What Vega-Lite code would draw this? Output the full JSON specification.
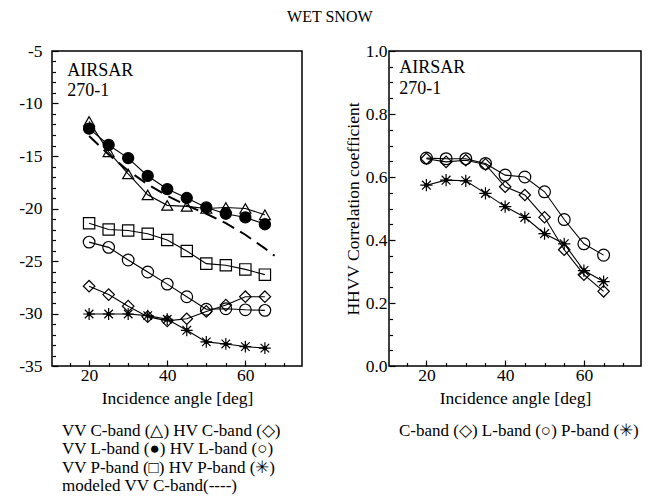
{
  "$schema": "https://vega.github.io/schema/vega-lite/v6.json",
  "background": "white",
  "padding": {"left": 17, "top": 9, "right": 2, "bottom": 0},
  "title": {"text": "WET SNOW", "font": "Liberation Serif", "fontSize": 16, "fontWeight": "normal", "color": "black", "anchor": "middle", "offset": 16},
  "resolve": {"scale": {"shape": "independent", "fill": "independent", "size": "independent"}},
  "config": {
    "font": "Liberation Serif",
    "view": {"stroke": "black", "strokeWidth": 1.5},
    "concat": {"spacing": 40},
    "axis": {"domain": false, "grid": false, "tickColor": "black", "tickWidth": 1.2, "labelFont": "Liberation Serif", "labelFontSize": 17.5, "labelColor": "black", "titleFont": "Liberation Serif", "titleFontSize": 17.5, "titleFontWeight": "normal", "titleColor": "black"}
  },
  "datasets": {
    "backscatter": [
      {"series": "VV C-band", "angle": 20, "value": -11.7}, {"series": "VV C-band", "angle": 25, "value": -14.6}, {"series": "VV C-band", "angle": 30, "value": -16.7}, {"series": "VV C-band", "angle": 35, "value": -18.7}, {"series": "VV C-band", "angle": 40, "value": -19.7}, {"series": "VV C-band", "angle": 45, "value": -19.8}, {"series": "VV C-band", "angle": 50, "value": -20.0}, {"series": "VV C-band", "angle": 55, "value": -19.9}, {"series": "VV C-band", "angle": 60, "value": -20.0}, {"series": "VV C-band", "angle": 65, "value": -20.6},
      {"series": "VV L-band", "angle": 20, "value": -12.4}, {"series": "VV L-band", "angle": 25, "value": -13.95}, {"series": "VV L-band", "angle": 30, "value": -15.2}, {"series": "VV L-band", "angle": 35, "value": -16.9}, {"series": "VV L-band", "angle": 40, "value": -18.15}, {"series": "VV L-band", "angle": 45, "value": -19.0}, {"series": "VV L-band", "angle": 50, "value": -19.9}, {"series": "VV L-band", "angle": 55, "value": -20.5}, {"series": "VV L-band", "angle": 60, "value": -20.85}, {"series": "VV L-band", "angle": 65, "value": -21.5},
      {"series": "VV P-band", "angle": 20, "value": -21.4}, {"series": "VV P-band", "angle": 25, "value": -22.0}, {"series": "VV P-band", "angle": 30, "value": -22.1}, {"series": "VV P-band", "angle": 35, "value": -22.4}, {"series": "VV P-band", "angle": 40, "value": -23.0}, {"series": "VV P-band", "angle": 45, "value": -24.05}, {"series": "VV P-band", "angle": 50, "value": -25.25}, {"series": "VV P-band", "angle": 55, "value": -25.4}, {"series": "VV P-band", "angle": 60, "value": -25.8}, {"series": "VV P-band", "angle": 65, "value": -26.3},
      {"series": "HV C-band", "angle": 20, "value": -27.4}, {"series": "HV C-band", "angle": 25, "value": -28.2}, {"series": "HV C-band", "angle": 30, "value": -29.3}, {"series": "HV C-band", "angle": 35, "value": -30.3}, {"series": "HV C-band", "angle": 40, "value": -30.7}, {"series": "HV C-band", "angle": 45, "value": -30.5}, {"series": "HV C-band", "angle": 50, "value": -29.8}, {"series": "HV C-band", "angle": 55, "value": -29.2}, {"series": "HV C-band", "angle": 60, "value": -28.4}, {"series": "HV C-band", "angle": 65, "value": -28.4},
      {"series": "HV L-band", "angle": 20, "value": -23.2}, {"series": "HV L-band", "angle": 25, "value": -23.7}, {"series": "HV L-band", "angle": 30, "value": -24.9}, {"series": "HV L-band", "angle": 35, "value": -26.05}, {"series": "HV L-band", "angle": 40, "value": -27.2}, {"series": "HV L-band", "angle": 45, "value": -28.4}, {"series": "HV L-band", "angle": 50, "value": -29.6}, {"series": "HV L-band", "angle": 55, "value": -29.55}, {"series": "HV L-band", "angle": 60, "value": -29.65}, {"series": "HV L-band", "angle": 65, "value": -29.7},
      {"series": "HV P-band", "angle": 20, "value": -30.05}, {"series": "HV P-band", "angle": 25, "value": -30.05}, {"series": "HV P-band", "angle": 30, "value": -30.05}, {"series": "HV P-band", "angle": 35, "value": -30.2}, {"series": "HV P-band", "angle": 40, "value": -30.55}, {"series": "HV P-band", "angle": 45, "value": -31.6}, {"series": "HV P-band", "angle": 50, "value": -32.7}, {"series": "HV P-band", "angle": 55, "value": -32.9}, {"series": "HV P-band", "angle": 60, "value": -33.15}, {"series": "HV P-band", "angle": 65, "value": -33.3}
    ],
    "model": [
      {"angle": 20, "value": -13.1}, {"angle": 25, "value": -14.85}, {"angle": 30, "value": -16.4}, {"angle": 35, "value": -17.7}, {"angle": 40, "value": -18.8}, {"angle": 45, "value": -19.7}, {"angle": 50, "value": -20.5}, {"angle": 55, "value": -21.4}, {"angle": 60, "value": -22.5}, {"angle": 65, "value": -23.8}, {"angle": 67.5, "value": -24.5}
    ],
    "corr": [
      {"series": "C-band", "angle": 20, "value": 0.658}, {"series": "C-band", "angle": 25, "value": 0.648}, {"series": "C-band", "angle": 30, "value": 0.653}, {"series": "C-band", "angle": 35, "value": 0.64}, {"series": "C-band", "angle": 40, "value": 0.569}, {"series": "C-band", "angle": 45, "value": 0.543}, {"series": "C-band", "angle": 50, "value": 0.472}, {"series": "C-band", "angle": 55, "value": 0.369}, {"series": "C-band", "angle": 60, "value": 0.29}, {"series": "C-band", "angle": 65, "value": 0.237},
      {"series": "L-band", "angle": 20, "value": 0.66}, {"series": "L-band", "angle": 25, "value": 0.658}, {"series": "L-band", "angle": 30, "value": 0.658}, {"series": "L-band", "angle": 35, "value": 0.643}, {"series": "L-band", "angle": 40, "value": 0.606}, {"series": "L-band", "angle": 45, "value": 0.6}, {"series": "L-band", "angle": 50, "value": 0.553}, {"series": "L-band", "angle": 55, "value": 0.465}, {"series": "L-band", "angle": 60, "value": 0.388}, {"series": "L-band", "angle": 65, "value": 0.352},
      {"series": "P-band", "angle": 20, "value": 0.574}, {"series": "P-band", "angle": 25, "value": 0.59}, {"series": "P-band", "angle": 30, "value": 0.588}, {"series": "P-band", "angle": 35, "value": 0.548}, {"series": "P-band", "angle": 40, "value": 0.506}, {"series": "P-band", "angle": 45, "value": 0.472}, {"series": "P-band", "angle": 50, "value": 0.42}, {"series": "P-band", "angle": 55, "value": 0.388}, {"series": "P-band", "angle": 60, "value": 0.303}, {"series": "P-band", "angle": 65, "value": 0.268}
    ],
    "notesLeft": [
      {"label": "AIRSAR", "angle": 14.4, "value": -7.4},
      {"label": "270-1", "angle": 14.4, "value": -9.3}
    ],
    "notesRight": [
      {"label": "AIRSAR", "angle": 13.1, "value": 0.93},
      {"label": "270-1", "angle": 13.1, "value": 0.864}
    ]
  },
  "hconcat": [
    {
      "width": 250,
      "height": 315,
      "title": {"text": ["VV C-band (△) HV C-band (◇)", "VV L-band (●) HV L-band (○)", "VV P-band (□) HV P-band (✳)", "modeled VV C-band(----)"], "orient": "bottom", "anchor": "start", "frame": "group", "align": "left", "dx": 10, "offset": 16, "font": "Liberation Serif", "fontSize": 17, "fontWeight": "normal", "color": "black", "lineHeight": 18.3},
      "resolve": {"axis": {"x": "independent", "y": "independent"}},
      "layer": [
        {
          "data": {"name": "backscatter"},
          "mark": {"type": "line", "color": "black", "strokeWidth": 1.1},
          "encoding": {
            "x": {"field": "angle", "type": "quantitative", "scale": {"domain": [10.5, 74.5], "nice": false}, "axis": {"orient": "bottom", "title": "Incidence angle [deg]", "values": [20, 40, 60], "tickSize": -6, "labelPadding": 6, "titlePadding": 6, "labelFont": "Liberation Serif"}},
            "y": {"field": "value", "type": "quantitative", "scale": {"domain": [-35, -5], "nice": false}, "axis": {"orient": "left", "title": null, "values": [-35, -30, -25, -20, -15, -10, -5], "labelExpr": "'' + datum.value", "tickSize": -6, "labelPadding": 16, "labelFont": "Liberation Serif"}},
            "detail": {"field": "series"}
          }
        },
        {
          "data": {"name": "model"},
          "mark": {"type": "line", "color": "black", "strokeWidth": 2, "strokeDash": [13, 7]},
          "encoding": {
            "x": {"field": "angle", "type": "quantitative", "axis": {"orient": "bottom", "title": null, "labels": false, "values": [15, 25, 30, 35, 45, 50, 55, 65, 70], "tickSize": -3.5}},
            "y": {"field": "value", "type": "quantitative", "axis": {"orient": "left", "title": null, "labels": false, "values": [-34, -33, -32, -31, -29, -28, -27, -26, -24, -23, -22, -21, -19, -18, -17, -16, -14, -13, -12, -11, -9, -8, -7, -6], "tickSize": -3.5}}
          }
        },
        {
          "data": {"name": "backscatter"},
          "mark": {"type": "point", "stroke": "black", "strokeWidth": 1.2, "opacity": 1},
          "encoding": {
            "x": {"field": "angle", "type": "quantitative", "axis": null},
            "y": {"field": "value", "type": "quantitative", "axis": null},
            "shape": {"field": "series", "type": "nominal", "legend": null, "scale": {"domain": ["VV C-band", "VV L-band", "VV P-band", "HV C-band", "HV L-band", "HV P-band"], "range": ["triangle-up", "circle", "square", "diamond", "circle", "M0,-1L0,1M-1,0L1,0M-0.72,-0.72L0.72,0.72M-0.72,0.72L0.72,-0.72"]}},
            "fill": {"field": "series", "type": "nominal", "legend": null, "scale": {"domain": ["VV C-band", "VV L-band", "VV P-band", "HV C-band", "HV L-band", "HV P-band"], "range": ["transparent", "black", "transparent", "transparent", "transparent", "transparent"]}},
            "size": {"field": "series", "type": "nominal", "legend": null, "scale": {"domain": ["VV C-band", "VV L-band", "VV P-band", "HV C-band", "HV L-band", "HV P-band"], "range": [120, 140, 150, 130, 140, 170]}}
          }
        },
        {
          "data": {"name": "backscatter"},
          "transform": [{"filter": "datum.series === 'HV P-band'"}],
          "mark": {"type": "point", "shape": "circle", "filled": true, "color": "black", "size": 20, "opacity": 1},
          "encoding": {
            "x": {"field": "angle", "type": "quantitative", "axis": null},
            "y": {"field": "value", "type": "quantitative", "axis": null}
          }
        },
        {
          "data": {"name": "notesLeft"},
          "mark": {"type": "text", "align": "left", "baseline": "alphabetic", "font": "Liberation Serif", "fontSize": 18, "color": "black"},
          "encoding": {
            "x": {"field": "angle", "type": "quantitative", "axis": null},
            "y": {"field": "value", "type": "quantitative", "axis": null},
            "text": {"field": "label"}
          }
        }
      ]
    },
    {
      "width": 252,
      "height": 315,
      "title": {"text": "C-band (◇) L-band (○) P-band (✳)", "orient": "bottom", "anchor": "start", "frame": "group", "align": "left", "dx": 10, "offset": 16, "font": "Liberation Serif", "fontSize": 17, "fontWeight": "normal", "color": "black"},
      "resolve": {"axis": {"x": "independent", "y": "independent"}},
      "layer": [
        {
          "data": {"name": "corr"},
          "mark": {"type": "line", "color": "black", "strokeWidth": 1.1},
          "encoding": {
            "x": {"field": "angle", "type": "quantitative", "scale": {"domain": [10.5, 74.5], "nice": false}, "axis": {"orient": "bottom", "title": "Incidence angle [deg]", "values": [20, 40, 60], "tickSize": -6, "labelPadding": 6, "titlePadding": 6, "labelFont": "Liberation Serif"}},
            "y": {"field": "value", "type": "quantitative", "scale": {"domain": [0, 1], "nice": false}, "axis": {"orient": "left", "title": "HHVV Correlation coefficient", "values": [0, 0.2, 0.4, 0.6, 0.8, 1.0], "format": ".1f", "tickSize": -6, "labelPadding": 8, "titlePadding": 3, "labelFont": "Liberation Serif"}},
            "detail": {"field": "series"}
          }
        },
        {
          "data": {"name": "corr"},
          "mark": {"type": "point", "stroke": "black", "strokeWidth": 1.2, "opacity": 1},
          "encoding": {
            "x": {"field": "angle", "type": "quantitative", "axis": {"orient": "bottom", "title": null, "labels": false, "values": [15, 25, 30, 35, 45, 50, 55, 65, 70], "tickSize": -3.5}},
            "y": {"field": "value", "type": "quantitative", "axis": {"orient": "left", "title": null, "labels": false, "values": [0.05, 0.1, 0.15, 0.25, 0.3, 0.35, 0.45, 0.5, 0.55, 0.65, 0.7, 0.75, 0.85, 0.9, 0.95], "tickSize": -3.5}},
            "shape": {"field": "series", "type": "nominal", "legend": null, "scale": {"domain": ["C-band", "L-band", "P-band"], "range": ["diamond", "circle", "M0,-1L0,1M-1,0L1,0M-0.72,-0.72L0.72,0.72M-0.72,0.72L0.72,-0.72"]}},
            "fill": {"value": "transparent"},
            "size": {"field": "series", "type": "nominal", "legend": null, "scale": {"domain": ["C-band", "L-band", "P-band"], "range": [130, 150, 170]}}
          }
        },
        {
          "data": {"name": "corr"},
          "transform": [{"filter": "datum.series === 'P-band'"}],
          "mark": {"type": "point", "shape": "circle", "filled": true, "color": "black", "size": 20, "opacity": 1},
          "encoding": {
            "x": {"field": "angle", "type": "quantitative", "axis": null},
            "y": {"field": "value", "type": "quantitative", "axis": null}
          }
        },
        {
          "data": {"name": "notesRight"},
          "mark": {"type": "text", "align": "left", "baseline": "alphabetic", "font": "Liberation Serif", "fontSize": 18, "color": "black"},
          "encoding": {
            "x": {"field": "angle", "type": "quantitative", "axis": null},
            "y": {"field": "value", "type": "quantitative", "axis": null},
            "text": {"field": "label"}
          }
        }
      ]
    }
  ]
}
